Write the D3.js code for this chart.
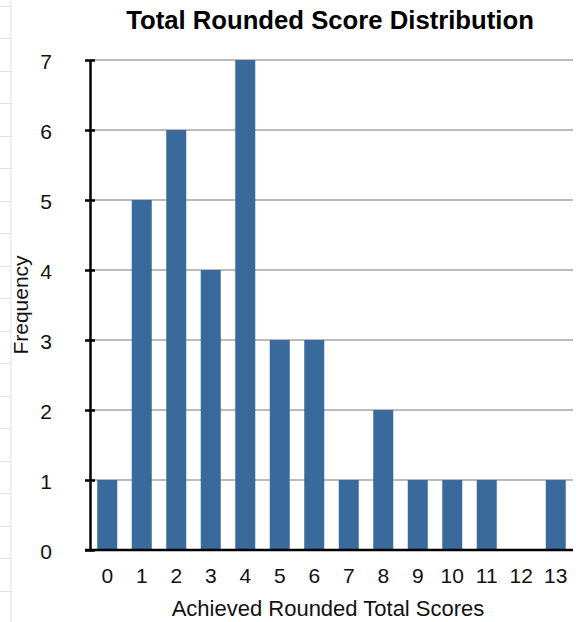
<!DOCTYPE html>
<html>
<head>
<meta charset="utf-8">
<script src="https://cdn.jsdelivr.net/npm/d3@7"></script>
<style>
  body { margin: 0; background: #fff; }
  text { font-family: "Liberation Sans", Arial, sans-serif; }
</style>
</head>
<body>
<div id="chart"></div>
<script>
var scores = ["0", "1", "2", "3", "4", "5", "6", "7", "8", "9", "10", "11", "12", "13"];
var frequency = [1, 5, 6, 4, 7, 3, 3, 1, 2, 1, 1, 1, 0, 1];
var yTicks = [0, 1, 2, 3, 4, 5, 6, 7];

var width = 579, height = 622;
var margin = { top: 60, right: 6, bottom: 72, left: 90 };

var svg = d3.select("#chart")
    .append("svg")
    .attr("width", width)
    .attr("height", height);

// faint spreadsheet cells on the left edge
var cells = svg.append("g");
cells.append("line")
    .attr("x1", 11).attr("x2", 11)
    .attr("y1", 0).attr("y2", height)
    .style("stroke", "#e2e2e2");
d3.range(5.5, height, 32.5).forEach(function(y) {
    cells.append("line")
        .attr("x1", 0).attr("x2", 11)
        .attr("y1", Math.round(y) + 0.5).attr("y2", Math.round(y) + 0.5)
        .style("stroke", "#e2e2e2");
});

var x = d3.scaleBand()
    .domain(scores)
    .range([margin.left, width - margin.right])
    .paddingInner(0.42)
    .paddingOuter(0.21);

var y = d3.scaleLinear()
    .domain([0, 7])
    .range([height - margin.bottom, margin.top]);

// gridlines
svg.append("g")
    .selectAll("line")
    .data(yTicks.slice(1))
    .enter().append("line")
    .attr("x1", margin.left)
    .attr("x2", width - margin.right)
    .attr("y1", (d) => y(d))
    .attr("y2", (d) => y(d))
    .style("stroke", "#bbbbbb")
    .style("stroke-width", 2);

// bars
svg.append("g")
    .selectAll("rect")
    .data(frequency)
    .enter().append("rect")
    .attr("x", (d, i) => x(scores[i]))
    .attr("y", (d) => y(d))
    .attr("width", x.bandwidth())
    .attr("height", (d) => y(0) - y(d))
    .style("fill", "#3a6a9c");

// y axis
var yAxis = svg.append("g")
    .attr("transform", "translate(" + margin.left + ",0)")
    .call(d3.axisLeft(y).tickValues(yTicks).tickFormat(d3.format("d"))
        .tickSize(5).tickSizeOuter(0).tickPadding(33));
yAxis.select(".domain").style("stroke", "#000").style("stroke-width", 2.5);
yAxis.selectAll(".tick line")
    .attr("x1", -5).attr("x2", 5)
    .style("stroke", "#000").style("stroke-width", 2.5);
yAxis.selectAll(".tick text")
    .style("font-size", "21px")
    .style("fill", "#111")
    .attr("dy", "0.4em");

// x axis baseline
var xAxis = svg.append("g")
    .attr("transform", "translate(0," + y(0) + ")")
    .call(d3.axisBottom(x).tickSize(0).tickPadding(18));
xAxis.select(".domain")
    .attr("d", "M" + (margin.left - 5) + ",0H" + (width - margin.right))
    .style("stroke", "#000").style("stroke-width", 2.5);
xAxis.selectAll(".tick text")
    .style("font-size", "21px")
    .style("fill", "#111");

// titles
svg.append("text")
    .attr("x", 330)
    .attr("y", 29)
    .attr("text-anchor", "middle")
    .style("font-size", "25.7px")
    .style("font-weight", "bold")
    .text("Total Rounded Score Distribution");

svg.append("text")
    .attr("x", 328)
    .attr("y", 616)
    .attr("text-anchor", "middle")
    .style("font-size", "22px")
    .style("fill", "#111")
    .text("Achieved Rounded Total Scores");

svg.append("text")
    .attr("transform", "translate(28,305) rotate(-90)")
    .attr("text-anchor", "middle")
    .style("font-size", "21px")
    .style("fill", "#111")
    .text("Frequency");
</script>
</body>
</html>
